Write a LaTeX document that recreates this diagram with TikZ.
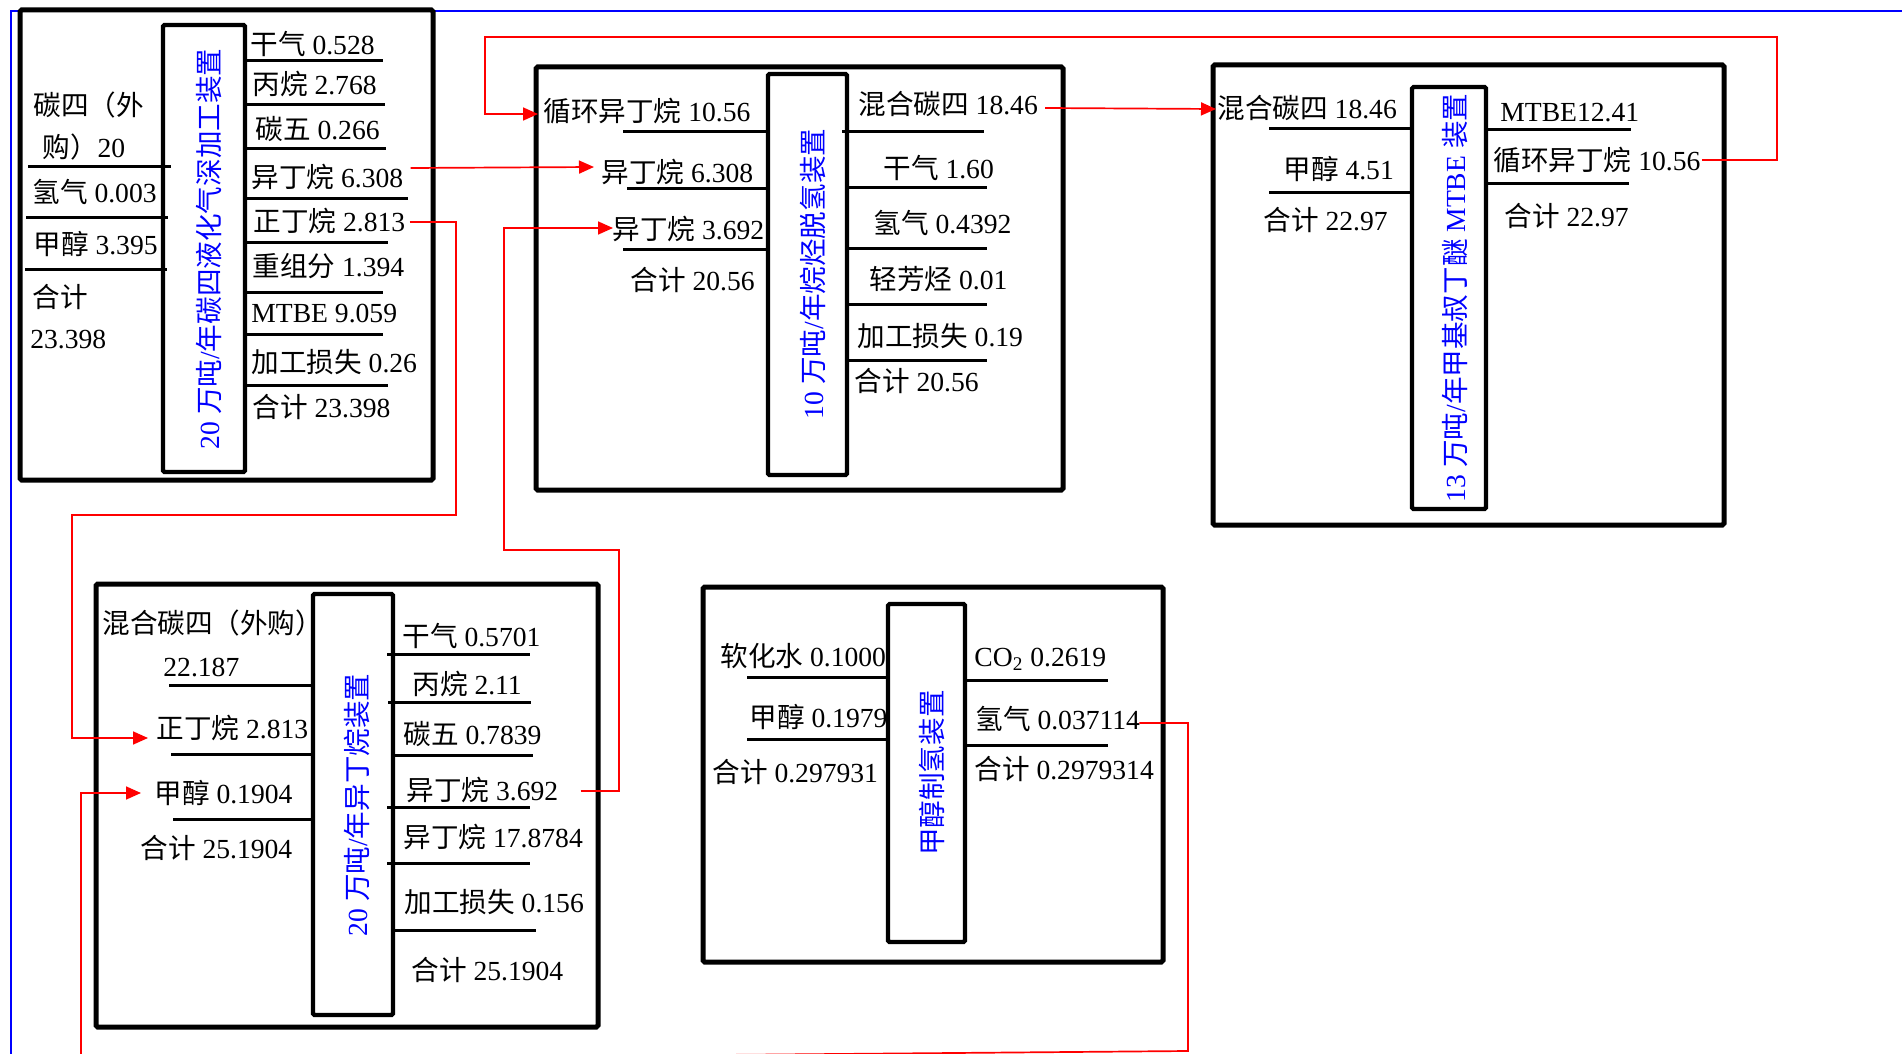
\documentclass[tikz,border=0pt]{standalone}
\usepackage{fontspec}
\setmainfont{Liberation Serif}
\newfontfamily\cjk{Noto Sans CJK SC}
\newcommand\zh[1]{{\cjk #1}}
\usetikzlibrary{arrows.meta,calc}
\begin{document}
\begin{tikzpicture}[x=0.5pt,y=-0.5pt,
  outerbox/.style={line width=2.5pt,rounded corners=0.8pt},
  innerbox/.style={line width=2.2pt,rounded corners=0.8pt},
  sepline/.style={line width=1.5pt},
  flowline/.style={red,line width=0.85pt},
  flow/.style={flowline,-{Triangle[length=7.5pt,width=6.5pt]}},
  frameline/.style={blue,line width=1pt},
  lbl/.style={anchor=west,inner sep=0pt,font=\fontsize{13.8}{16}\selectfont,text height=11.7pt,text depth=1.7pt},
  ulbl/.style={inner sep=0pt,rotate=90,text=blue,font=\fontsize{13.8}{16}\selectfont,text height=11.7pt,text depth=1.7pt}]
\useasboundingbox (0,0) rectangle (1902,1054);
\clip (0,0) rectangle (1902,1054);
\fill[white] (0,0) rectangle (1902,1054);
% blue frame
\draw[frameline] (11,1060) -- (11,11) -- (1910,11);

% ---------- Box 1 ----------
\draw[outerbox] (20,10) rectangle (433,480);
\draw[innerbox] (163,25) rectangle (245,472);
\node[ulbl] (u1) at (209,249) {20 \zh{万吨}/\zh{年碳四液化气深加工装置}};
\node[lbl] (a1) at (33,106) {\zh{碳四（外}};
\node[lbl] (a2) at (42,147) {\zh{购）}20};
\node[lbl] (a3) at (32,193) {\zh{氢气} 0.003};
\node[lbl] (a4) at (33,245) {\zh{甲醇} 3.395};
\node[lbl] (a5) at (32,297) {\zh{合计}};
\node[lbl] (a6) at (30,338) {23.398};
\node[lbl] (a7) at (250,45) {\zh{干气} 0.528};
\node[lbl] (a8) at (252,85) {\zh{丙烷} 2.768};
\node[lbl] (a9) at (255,130) {\zh{碳五} 0.266};
\node[lbl] (a10) at (251,177) {\zh{异丁烷} 6.308};
\node[lbl] (a11) at (253,221) {\zh{正丁烷} 2.813};
\node[lbl] (a12) at (252,266) {\zh{重组分} 1.394};
\node[lbl] (a13) at (251,312) {MTBE 9.059};
\node[lbl] (a14) at (251,362) {\zh{加工损失} 0.26};
\node[lbl] (a15) at (252,407) {\zh{合计} 23.398};
\foreach \xa/\xb/\y in {28/171/167,26/168/217,25/167/269,245/383/61,245/385/105,245/386/149,245/408/199,245/388/242,245/383/292,245/383/334,245/388/385}
  \draw[sepline] (\xa,\y) -- (\xb,\y);

% ---------- Box 2 ----------
\draw[outerbox] (536,67) rectangle (1063,490);
\draw[innerbox] (768,74) rectangle (847,475);
\node[ulbl] (u2) at (813,274) {10 \zh{万吨}/\zh{年烷烃脱氢装置}};
\node[lbl] (b1) at (543,112) {\zh{循环异丁烷} 10.56};
\node[lbl] (b2) at (601,173) {\zh{异丁烷} 6.308};
\node[lbl] (b3) at (612,229) {\zh{异丁烷} 3.692};
\node[lbl] (b4) at (630,280) {\zh{合计} 20.56};
\node[lbl] (b5) at (858,105) {\zh{混合碳四} 18.46};
\node[lbl] (b6) at (883,168) {\zh{干气} 1.60};
\node[lbl] (b7) at (873,224) {\zh{氢气} 0.4392};
\node[lbl] (b8) at (869,279) {\zh{轻芳烃} 0.01};
\node[lbl] (b9) at (857,336) {\zh{加工损失} 0.19};
\node[lbl] (b10) at (854,381) {\zh{合计} 20.56};
\foreach \xa/\xb/\y in {623/768/132,627/768/189,623/768/249,842/984/132,847/987/188,847/987/248,847/987/304,847/987/360}
  \draw[sepline] (\xa,\y) -- (\xb,\y);

% ---------- Box 3 ----------
\draw[outerbox] (1213,65) rectangle (1724,525);
\draw[innerbox] (1412,87) rectangle (1486,509);
\node[ulbl] (u3) at (1455,298) {13 \zh{万吨}/\zh{年甲基叔丁醚} MTBE \zh{装置}};
\node[lbl] (c1) at (1217,109) {\zh{混合碳四} 18.46};
\node[lbl] (c2) at (1283,170) {\zh{甲醇} 4.51};
\node[lbl] (c3) at (1263,220) {\zh{合计} 22.97};
\node[lbl] (c4) at (1500,112) {MTBE12.41};
\node[lbl] (c5) at (1493,160) {\zh{循环异丁烷} 10.56};
\node[lbl] (c6) at (1504,217) {\zh{合计} 22.97};
\foreach \xa/\xb/\y in {1269/1412/129,1269/1412/193,1486/1631/130,1486/1629/184}
  \draw[sepline] (\xa,\y) -- (\xb,\y);

% ---------- Box 4 ----------
\draw[outerbox] (96,584) rectangle (598,1027);
\draw[innerbox] (313,594) rectangle (393,1015);
\node[ulbl] (u4) at (357,805) {20 \zh{万吨}/\zh{年异丁烷装置}};
\node[lbl] (d1) at (102,623) {\zh{混合碳四（外购）}};
\node[lbl] (d2) at (163,666) {22.187};
\node[lbl] (d3) at (156,728) {\zh{正丁烷} 2.813};
\node[lbl] (d4) at (154,793) {\zh{甲醇} 0.1904};
\node[lbl] (d5) at (140,848) {\zh{合计} 25.1904};
\node[lbl] (d6) at (402,636) {\zh{干气} 0.5701};
\node[lbl] (d7) at (412,684) {\zh{丙烷} 2.11};
\node[lbl] (d8) at (403,734) {\zh{碳五} 0.7839};
\node[lbl] (d9) at (406,790) {\zh{异丁烷} 3.692};
\node[lbl] (d10) at (403,837) {\zh{异丁烷} 17.8784};
\node[lbl] (d11) at (404,902) {\zh{加工损失} 0.156};
\node[lbl] (d12) at (411,970) {\zh{合计} 25.1904};
\foreach \xa/\xb/\y in {169/313/685,171/313/754,173/313/819,387/530/654,388/531/702,392/533/755,387/530/807,387/530/863,395/536/930}
  \draw[sepline] (\xa,\y) -- (\xb,\y);

% ---------- Box 5 ----------
\draw[outerbox] (703,587) rectangle (1163,962);
\draw[innerbox] (888,604) rectangle (965,942);
\node[ulbl] (u5) at (932,773) {\zh{甲醇制氢装置}};
\node[lbl] (e1) at (720,656) {\zh{软化水} 0.1000};
\node[lbl] (e2) at (749,717) {\zh{甲醇} 0.1979};
\node[lbl] (e3) at (712,772) {\zh{合计} 0.297931};
\node[lbl] (e4) at (974,656) {CO\textsubscript{2} 0.2619};
\node[lbl] (e5) at (975,719) {\zh{氢气} 0.037114};
\node[lbl] (e6) at (974,769) {\zh{合计} 0.2979314};
\foreach \xa/\xb/\y in {747/888/677,747/888/739,965/1108/680,965/1108/745}
  \draw[sepline] (\xa,\y) -- (\xb,\y);

% ---------- connectors ----------
\coordinate (k1) at (456,515);
\coordinate (k2) at (72,515);
\coordinate (k3) at (619,550);
\coordinate (k4) at (504,550);
\coordinate (k5) at (1777,37);
\coordinate (k6) at (485,37);
\coordinate (k7) at (1188,1051);
\coordinate (f1) at (81,1060);
\coordinate (f2) at (600,1056);

\draw[flow] ($(a10.east)+(7,-9)$) -- ($(b2.west)+(-7,-6)$);
\draw[flow] ($(a11.east)+(4,1)$) -| (k1) -- (k2) |- ($(d3.west)+(-8,10)$);
\draw[flow] ($(d9.east)+(22,1)$) -| (k3) -- (k4) |- ($(b3.west)+(1,-1)$);
\draw[flow] ($(b5.east)+(7,3)$) -- ($(c1.west)+(-1,0)$);
\draw[flow] ($(c5.east)+(1,0)$) -| (k5) -- (k6) |- ($(b1.west)+(-5,2)$);
\draw[flow] (f1) |- ($(d4.west)+(-13,0)$);
\draw[flowline] ($(e5.east)+(-1,4)$) -| (k7) -- (f2);
\end{tikzpicture}
\end{document}
